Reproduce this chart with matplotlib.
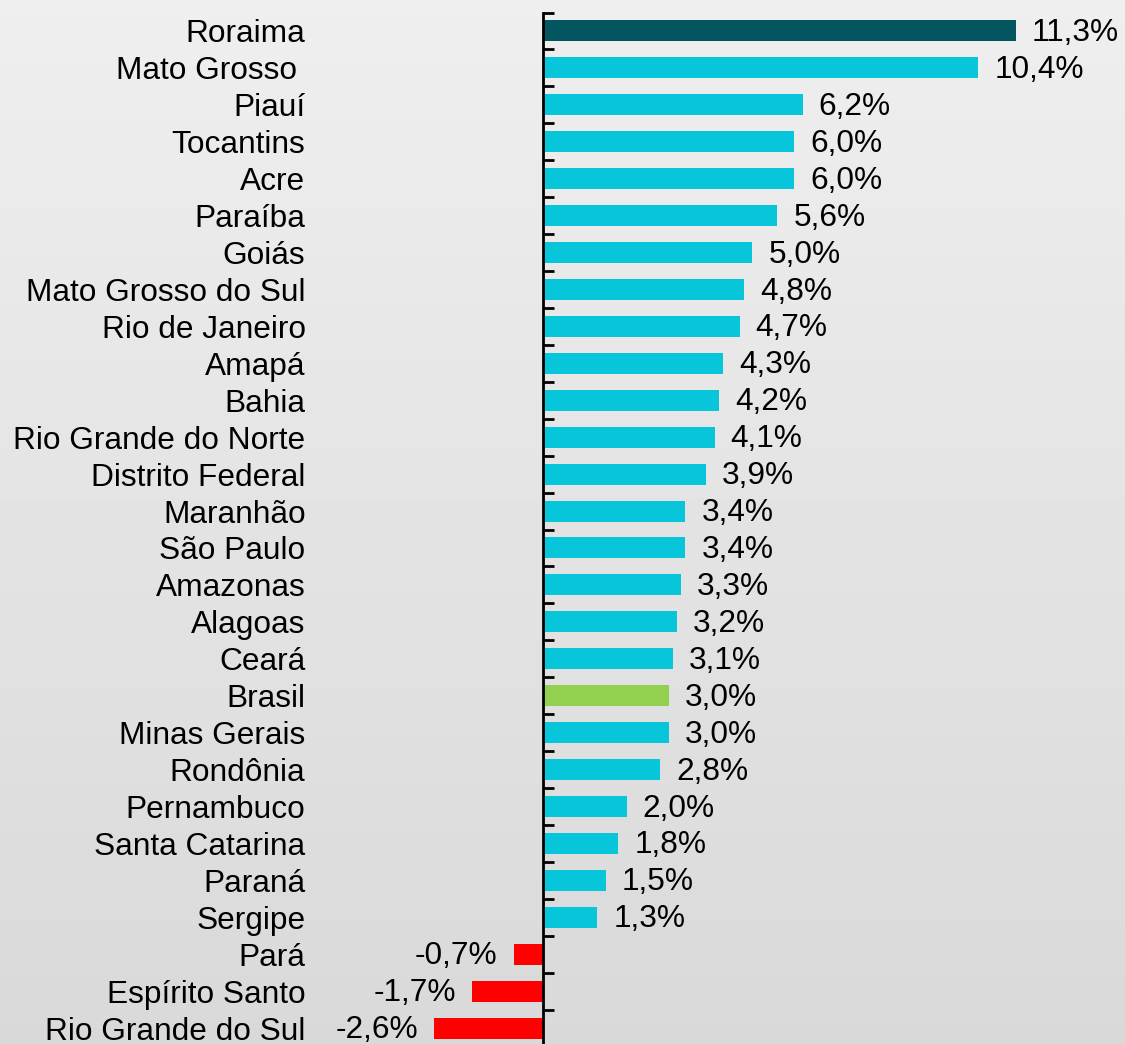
import numpy as np
import matplotlib.pyplot as plt

estados = ["Roraima", "Mato Grosso ", "Piauí", "Tocantins", "Acre", "Paraíba",
           "Goiás", "Mato Grosso do Sul", "Rio de Janeiro", "Amapá", "Bahia",
           "Rio Grande do Norte", "Distrito Federal", "Maranhão", "São Paulo",
           "Amazonas", "Alagoas", "Ceará", "Brasil", "Minas Gerais", "Rondônia",
           "Pernambuco", "Santa Catarina", "Paraná", "Sergipe", "Pará",
           "Espírito Santo", "Rio Grande do Sul"]
variacao = [11.3, 10.4, 6.2, 6.0, 6.0, 5.6, 5.0, 4.8, 4.7, 4.3, 4.2, 4.1, 3.9,
            3.4, 3.4, 3.3, 3.2, 3.1, 3.0, 3.0, 2.8, 2.0, 1.8, 1.5, 1.3, -0.7,
            -1.7, -2.6]

plt.rcParams['font.family'] = ['Liberation Sans', 'DejaVu Sans']

fig = plt.figure(figsize=(11.25, 10.44), dpi=100)

# fundo em degradê
bg = fig.add_axes([0, 0, 1, 1], zorder=-1)
grad = np.linspace(0.935, 0.85, 256).reshape(-1, 1)
bg.imshow(grad, aspect='auto', cmap='gray', vmin=0, vmax=1, extent=[0, 1, 0, 1])
bg.axis('off')

ax = fig.add_axes([380 / 1125, -2.5 / 1044, 745 / 1125, 1034 / 1044])
ax.set_facecolor('none')

cores = []
for nome, v in zip(estados, variacao):
    if nome == "Roraima":
        cores.append('#03565F')
    elif nome == "Brasil":
        cores.append('#92D050')
    elif v < 0:
        cores.append('#FF0000')
    else:
        cores.append('#08C6D9')

y = np.arange(len(estados))
ax.barh(y, variacao, height=0.57, color=cores)

fs = 22.8
for yi, v in zip(y, variacao):
    txt = f"{v:.1f}%".replace('.', ',')
    if v >= 0:
        ax.annotate(txt, (v, yi), xytext=(11.5, -1.5), textcoords='offset points',
                    ha='left', va='center', fontsize=fs)
    else:
        ax.annotate(txt, (v, yi), xytext=(-11.5, -1.5), textcoords='offset points',
                    ha='right', va='center', fontsize=fs)

ax.set_xlim((380 - 543) / 41.86, (1125 - 543) / 41.86)
ax.set_ylim(len(estados) - 0.5, -0.5)

for s in ['top', 'right', 'bottom']:
    ax.spines[s].set_visible(False)
ax.spines['left'].set_position(('data', 0))
ax.spines['left'].set_linewidth(2)
ax.set_xticks([])

ax.set_yticks(y)
ax.set_yticklabels(estados, fontsize=fs)
ax.set_yticks(np.arange(len(estados) + 1) - 0.5, minor=True)
ax.tick_params(axis='y', which='major', length=0, pad=171)
ax.tick_params(axis='y', which='minor', direction='in', length=8, width=2)

fig.savefig('out.png', dpi=100)
